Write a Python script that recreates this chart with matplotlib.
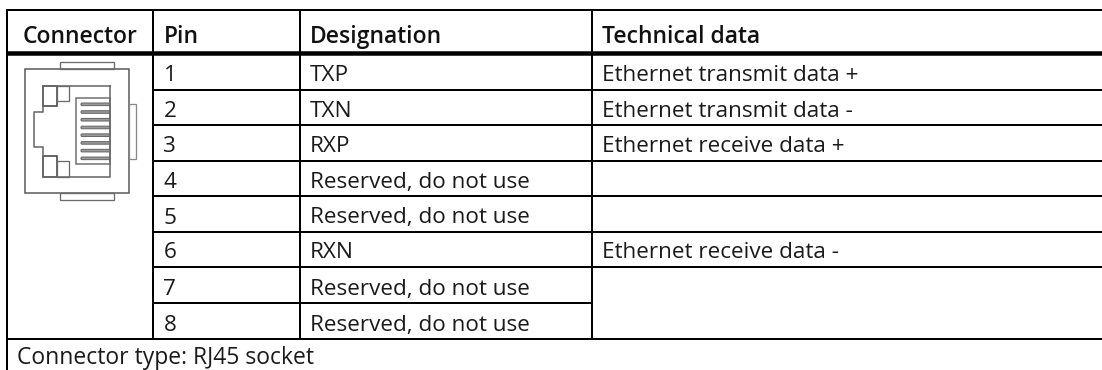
import matplotlib
matplotlib.use('Agg')
import matplotlib.pyplot as plt
from matplotlib.patches import Rectangle, FancyBboxPatch

headers = ['Connector', 'Pin', 'Designation', 'Technical data']
pins = ['1', '2', '3', '4', '5', '6', '7', '8']
designations = ['TXP', 'TXN', 'RXP', 'Reserved, do not use', 'Reserved, do not use',
                'RXN', 'Reserved, do not use', 'Reserved, do not use']
tech_data = ['Ethernet transmit data +', 'Ethernet transmit data -', 'Ethernet receive data +',
             '', '', 'Ethernet receive data -', '', '']
footer = 'Connector type: RJ45 socket'

# pixel layout of the table
col_x = [7, 152.5, 300, 592]
text_x = [22.5, 163.5, 309.5, 601.5]
row_y = [89.7, 125, 160.8, 196, 231.8, 266.8, 303, 339]
px = 0.72
fs = 16.2

plt.rcParams['font.family'] = ['Open Sans', 'DejaVu Sans']

fig = plt.figure(figsize=(11.02, 3.7), dpi=100)
ax = fig.add_axes([0, 0, 1, 1])
ax.set_xlim(0, 1102)
ax.set_ylim(370, 0)
ax.axis('off')


def hline(y, x0, x1, w=2):
    ax.plot([x0, x1], [y, y], color='black', lw=w * px, solid_capstyle='butt')


def vline(x, y0, y1, w=2):
    ax.plot([x, x], [y0, y1], color='black', lw=w * px, solid_capstyle='butt')


# grid
hline(10, 6, 1102)
hline(52.5, 6, 1102, 4.5)
for i, y in enumerate(row_y):
    if i == 7:
        hline(y, 6, 1102)
    elif i == 6:
        hline(y, col_x[1], col_x[3])
    else:
        hline(y, col_x[1], 1102)
vline(col_x[0], 9, 370)
for x in col_x[1:]:
    vline(x, 9, row_y[-1])

# text
for x, h in zip(text_x, headers):
    ax.text(x, 43.3, h, fontsize=16.5, fontweight='semibold', va='baseline', color='#111111')
for i in range(8):
    base = row_y[i] - 8.3
    ax.text(text_x[1], base, pins[i], fontsize=fs, va='baseline', color='#1a1a1a')
    ax.text(text_x[2], base, designations[i], fontsize=fs, va='baseline', color='#1a1a1a')
    if tech_data[i]:
        ax.text(text_x[3], base, tech_data[i], fontsize=fs, va='baseline', color='#1a1a1a')
ax.text(17, 363.5, footer, fontsize=16.5, va='baseline', color='#1a1a1a')

# connector icon
icon = '#6a6a6a'


def box(x0, y0, x1, y1, w=1.3, c=icon):
    ax.add_patch(Rectangle((x0, y0), x1 - x0, y1 - y0, fill=False, ec=c, lw=w * px))


box(24.5, 69, 129, 193, 1.5, '#555555')
box(59.5, 62, 114, 69, 1.3)
box(59.5, 193, 114, 200, 1.3)
box(129, 104, 136, 159, 1.3, '#888888')

outline_x = [110, 42.5, 42.5, 34, 34, 42.5, 42.5, 110, 110]
outline_y = [86, 86, 112, 112, 147, 147, 177, 177, 86]
ax.plot(outline_x, outline_y, color=icon, lw=1.6 * px)
box(42.5, 86, 57, 106, 1.6, '#444444')
box(57, 86, 69, 101, 1.3)
box(42.5, 156, 57, 177, 1.6, '#444444')
box(57, 161, 69, 177, 1.3)
box(76, 98, 110, 164, 1.6, '#777777')
for i in range(len(pins)):
    y = 104.3 + i * 7.72
    ax.add_patch(FancyBboxPatch((81, y - 1.3), 29, 2.6, boxstyle='round,pad=0,rounding_size=1',
                                fc='#999999', ec='#666666', lw=1 * px))

fig.savefig('out.png', dpi=100, facecolor='white')
